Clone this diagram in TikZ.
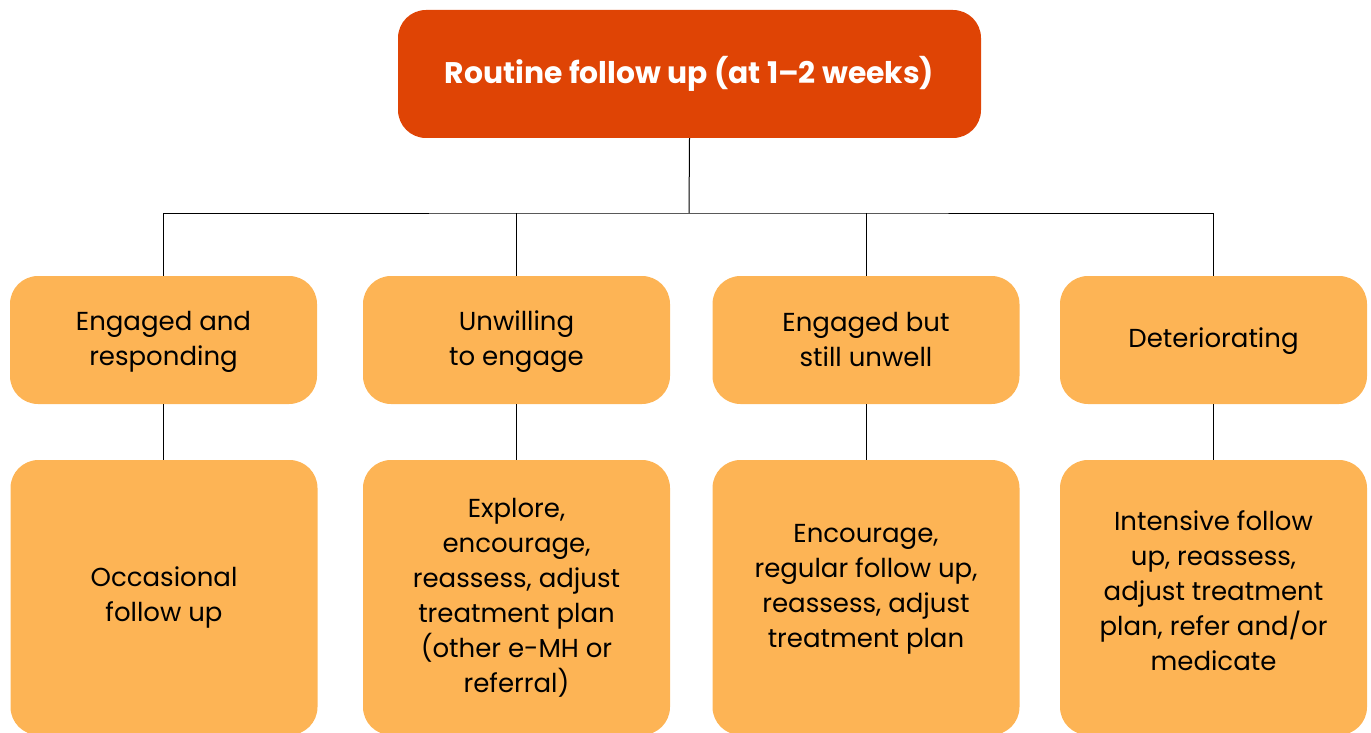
\documentclass[tikz,border=0pt]{standalone}
\usepackage{fontspec}
\setmainfont{Poppins}
\definecolor{topc}{HTML}{DF4405}
\definecolor{boxc}{HTML}{FDB455}
\begin{document}
\begin{tikzpicture}[x=1pt,y=-1pt,
  topbox/.style={fill=topc, rounded corners=28pt, inner sep=0pt, text=white,
    font=\fontsize{29.8}{35}\selectfont\bfseries, align=center},
  midbox/.style={fill=boxc, rounded corners=28pt, inner sep=0pt,
    minimum width=307pt, minimum height=128pt},
  bottext/.style={align=center, inner sep=0pt, font=\fontsize{26}{35}\selectfont},
  botbox/.style={fill=boxc, rounded corners=28pt, inner sep=0pt,
    minimum width=307pt, minimum height=275pt},
  link/.style={draw=black, line width=1pt}]
\useasboundingbox (0,0) rectangle (1371,733);
\clip (0,0) rectangle (1371,733);
\node[topbox, minimum width=583pt, minimum height=128pt] (top) at (689.5,74) {Routine follow up (at 1--2 weeks)};
\node[midbox] (m1) at (163.5,340) {};
\node[midbox] (m2) at (516.5,340) {};
\node[midbox] (m3) at (866,340) {};
\node[midbox] (m4) at (1213.5,340) {};
\node[bottext] (s1) at ([yshift=-2pt]m1.center) {Engaged and\\responding};
\node[bottext] (s2) at ([yshift=-2pt]m2.center) {Unwilling\\to engage};
\node[bottext] (s3) at ([yshift=1pt]m3.center) {Engaged but\\still unwell};
\node[bottext] (s4) at ([yshift=-1pt]m4.center) {Deteriorating};
\node[botbox] (b1) at (164,597.5) {};
\node[botbox] (b2) at (516.5,597.5) {};
\node[botbox] (b3) at (866,597.5) {};
\node[botbox] (b4) at (1213.5,597.5) {};
\node[bottext] (t1) at (b1.center) {Occasional\\follow up};
\node[bottext] (t2) at (b2.center) {Explore,\\encourage,\\reassess, adjust\\treatment plan\\(other e-MH or\\referral)};
\node[bottext] (t3) at ([yshift=8pt]b3.center) {Encourage,\\regular follow up,\\reassess, adjust\\treatment plan};
\node[bottext] (t4) at ([yshift=7pt]b4.center) {Intensive follow\\up, reassess,\\adjust treatment\\plan, refer and/or\\medicate};
\coordinate (j) at (689,213);
\draw[link] (top.south) -- (j);
\draw[link] (m1.north) |- (j) -| (m4.north);
\draw[link] (m2.north) -- (m2.north |- j);
\draw[link] (m3.north) -- (m3.north |- j);
\draw[link] (m1.south) -- (b1.north -| m1.south);
\draw[link] (m2.south) -- (b2.north);
\draw[link] (m3.south) -- (b3.north);
\draw[link] (m4.south) -- (b4.north);
\end{tikzpicture}
\end{document}
